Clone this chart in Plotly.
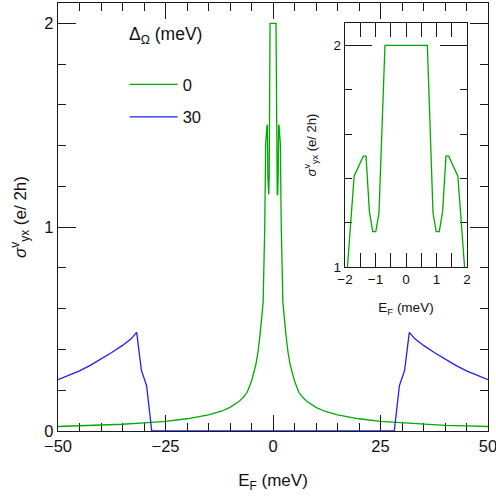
import plotly.graph_objects as go

# Data
EF_green = [-50, -45, -40, -35, -30, -25, -20, -15, -12, -10, -8, -7, -6, -5, -4,
            -3.5, -3, -2.6, -2.3, -1.92, -1.70, -1.40, -1.31, -1.20, -1.09, -0.99, -0.885, -0.69,
            0.70, 0.885, 0.99, 1.09, 1.20, 1.31, 1.40, 1.70, 1.92, 2.3, 2.6, 3, 3.5,
            4, 5, 6, 7, 8, 10, 12, 15, 20, 25, 30, 35, 40, 45, 50]
sigma_green = [0.022, 0.025, 0.028, 0.033, 0.040, 0.047, 0.060, 0.079, 0.097, 0.116,
               0.143, 0.163, 0.19, 0.245, 0.325, 0.385, 0.475, 0.55, 0.63,
               1.0, 1.41, 1.50, 1.50, 1.25, 1.16, 1.16, 1.245, 2.0,
               2.0, 1.245, 1.16, 1.16, 1.25, 1.50, 1.50, 1.41, 1.0,
               0.63, 0.55, 0.475, 0.385, 0.325, 0.245, 0.19, 0.163, 0.143,
               0.116, 0.097, 0.079, 0.060, 0.047, 0.040, 0.033, 0.028, 0.025, 0.022]

EF_blue = [-50, -47.5, -45, -42.5, -40, -37.5, -35, -33, -31.7, -30.6, -29.4, -28.2,
           28.2, 29.4, 30.6, 31.7, 33, 35, 37.5, 40, 42.5, 45, 47.5, 50]
sigma_blue = [0.252, 0.272, 0.295, 0.322, 0.352, 0.385, 0.42, 0.452, 0.484, 0.297, 0.223, 0.0,
              0.0, 0.223, 0.297, 0.484, 0.452, 0.42, 0.385, 0.352, 0.322, 0.295, 0.272, 0.252]

series_names = ["0", "30"]
legend_title = "Δ<sub>Ω</sub> (meV)"
x_title = "E<sub>F</sub> (meV)"
y_title = "<i>σ</i><sup>v</sup><sub>yx</sub> (e/ 2h)"

GREEN = "#00aa00"
BLUE = "#1f1fee"
AX = "#1a1a1a"
FONT = "Liberation Sans, Arial, sans-serif"

fig = go.Figure()
fig.add_trace(go.Scatter(x=EF_green, y=sigma_green, mode="lines", name=series_names[0],
                         legendgroup="g0", line=dict(color=GREEN, width=1.3)))
fig.add_trace(go.Scatter(x=EF_blue, y=sigma_blue, mode="lines", name=series_names[1],
                         legendgroup="g1", line=dict(color=BLUE, width=1.3)))
fig.add_trace(go.Scatter(x=EF_green, y=sigma_green, mode="lines", showlegend=False,
                         xaxis="x2", yaxis="y2", line=dict(color=GREEN, width=1.3)))

common = dict(showline=True, linecolor=AX, linewidth=1.3, mirror="allticks",
              ticks="inside", tickcolor=AX, tickwidth=1.2, showgrid=False,
              zeroline=False, layer="below traces", automargin=False,
              ticklabeloverflow="allow")

fig.update_layout(
    width=496, height=498,
    margin=dict(l=58, r=8, t=3, b=67, autoexpand=False),
    paper_bgcolor="white", plot_bgcolor="white",
    font=dict(family=FONT, size=16, color="#111"),
    xaxis=dict(range=[-50, 50], tick0=-50, dtick=25, ticklen=16,
               minor=dict(dtick=5, ticklen=8, ticks="inside", tickcolor=AX, tickwidth=1.2),
               tickfont=dict(size=16.5),
               title=dict(text=x_title, font=dict(size=17), standoff=20), **common),
    yaxis=dict(range=[0, 2.1], tick0=0, dtick=1, ticklen=18,
               minor=dict(dtick=0.2, ticklen=8, ticks="inside", tickcolor=AX, tickwidth=1.2),
               tickfont=dict(size=16.5),
               title=dict(text=y_title, font=dict(size=17), standoff=13), **common),
    xaxis2=dict(domain=[0.6674, 0.9512], anchor="y2", range=[-2, 2], tick0=-2, dtick=1,
                ticklen=14,
                minor=dict(dtick=0.5, ticklen=14, ticks="inside", tickcolor=AX, tickwidth=1.2),
                tickfont=dict(size=13.5),
                title=dict(text=x_title, font=dict(size=13.5), standoff=16), **common),
    yaxis2=dict(domain=[0.383, 0.953], anchor="x2", range=[1, 2.1], tick0=1, dtick=1,
                ticklen=27,
                minor=dict(dtick=0.2, ticklen=7, ticks="inside", tickcolor=AX, tickwidth=1.2),
                tickfont=dict(size=13.5),
                title=dict(text=y_title, font=dict(size=13), standoff=14), **common),
    legend=dict(x=0.155, y=0.85, xanchor="left", yanchor="top", bgcolor="rgba(0,0,0,0)",
                font=dict(size=16.5), tracegroupgap=8, itemwidth=48),
    showlegend=True,
    annotations=[dict(text=legend_title, xref="paper", yref="paper", x=0.25, y=0.925,
                      xanchor="center", yanchor="middle", showarrow=False,
                      font=dict(size=17.5))],
)

fig.write_html("out.html", post_script="document.body.style.margin='0';",
               config={"displayModeBar": False})
